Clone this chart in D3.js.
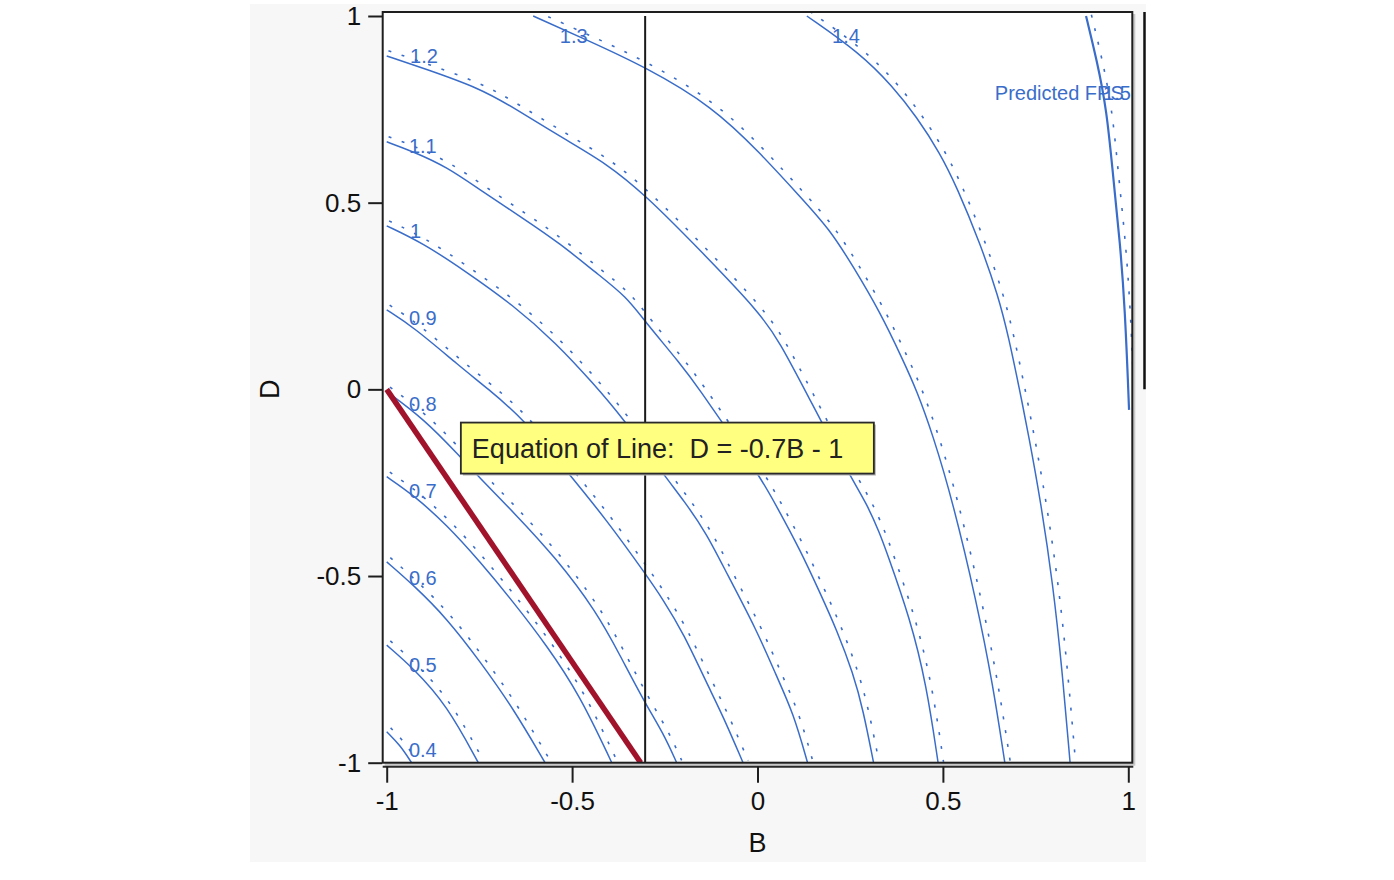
<!DOCTYPE html>
<html>
<head>
<meta charset="utf-8">
<script src="https://cdn.jsdelivr.net/npm/d3@7"></script>
<style>
  html, body { margin: 0; padding: 0; background: #ffffff; }
  svg { display: block; font-family: "Liberation Sans", Arial, sans-serif; }
</style>
</head>
<body>
<div id="chart"></div>
<script>
// contour levels of Predicted FPS over B (x) and D (y)
var levels = ["0.4", "0.5", "0.6", "0.7", "0.8", "0.9", "1", "1.1", "1.2", "1.3", "1.4", "1.5"];

// traced contour paths, points are [B, D]
var contour04 = [[-1, -0.917], [-0.964, -0.953], [-0.933, -1]];
var contour05 = [[-1, -0.685], [-0.928, -0.747], [-0.838, -0.845], [-0.753, -1]];
var contour06 = [[-1, -0.462], [-0.928, -0.524], [-0.838, -0.613], [-0.748, -0.729], [-0.659, -0.854], [-0.573, -1]];
var contour07 = [[-1, -0.234], [-0.928, -0.283], [-0.838, -0.363], [-0.748, -0.462], [-0.659, -0.569],
                 [-0.569, -0.685], [-0.479, -0.819], [-0.393, -1]];
var contour08 = [[-1, -0.006], [-0.901, -0.078], [-0.802, -0.180], [-0.757, -0.229], [-0.659, -0.328],
                 [-0.542, -0.453], [-0.434, -0.596], [-0.371, -0.712], [-0.303, -0.841], [-0.254, -0.921], [-0.218, -1]];
var contour09 = [[-1, 0.213], [-0.929, 0.168], [-0.802, 0.061], [-0.730, 0.004], [-0.632, -0.078],
                 [-0.506, -0.229], [-0.407, -0.350], [-0.303, -0.493], [-0.254, -0.564], [-0.200, -0.653],
                 [-0.137, -0.787], [-0.092, -0.877], [-0.039, -1]];
var contour10 = [[-1, 0.438], [-0.901, 0.391], [-0.793, 0.320], [-0.659, 0.226], [-0.542, 0.123],
                 [-0.443, 0.016], [-0.362, -0.078], [-0.249, -0.234], [-0.200, -0.296], [-0.137, -0.386],
                 [-0.083, -0.493], [-0.002, -0.645], [0.052, -0.770], [0.097, -0.868], [0.135, -1]];
var contour11 = [[-1, 0.663], [-0.929, 0.637], [-0.838, 0.596], [-0.748, 0.534], [-0.632, 0.458],
                 [-0.533, 0.391], [-0.434, 0.311], [-0.353, 0.248], [-0.303, 0.181], [-0.209, 0.070],
                 [-0.155, -0.002], [-0.075, -0.118], [0.007, -0.234], [0.052, -0.314], [0.115, -0.430],
                 [0.169, -0.546], [0.214, -0.645], [0.258, -0.761], [0.285, -0.859], [0.313, -1]];
var contour12 = [[-1, 0.893], [-0.901, 0.860], [-0.748, 0.806], [-0.659, 0.755], [-0.524, 0.672],
                 [-0.407, 0.605], [-0.303, 0.521], [-0.155, 0.373], [0.007, 0.205], [0.061, 0.124],
                 [0.128, -0.002], [0.249, -0.232], [0.294, -0.305], [0.330, -0.386], [0.348, -0.435],
                 [0.411, -0.612], [0.456, -0.792], [0.487, -1]];
var contour13 = [[-0.605, 1], [-0.461, 0.936], [-0.303, 0.864], [-0.120, 0.757], [0.007, 0.633],
                 [0.115, 0.516], [0.196, 0.427], [0.258, 0.329], [0.330, 0.208], [0.392, 0.079],
                 [0.429, -0.002], [0.473, -0.122], [0.527, -0.302], [0.591, -0.570], [0.635, -0.792], [0.667, -1]];
var contour14 = [[0.133, 1], [0.276, 0.901], [0.365, 0.811], [0.429, 0.730], [0.492, 0.633],
                 [0.537, 0.543], [0.600, 0.392], [0.650, 0.248], [0.677, 0.141], [0.707, -0.002],
                 [0.731, -0.122], [0.764, -0.302], [0.797, -0.524], [0.821, -0.746], [0.843, -1]];
var contour15 = [[0.886, 1], [0.915, 0.882], [0.942, 0.748], [0.959, 0.570], [0.978, 0.392],
                 [0.991, 0.213], [1.0, -0.002], [1.002, -0.055]];

// where each level label sits, [B, D] of the label baseline start
var labelAnchors = [[-0.94, -0.985], [-0.94, -0.757], [-0.94, -0.524], [-0.94, -0.291], [-0.94, -0.058],
                    [-0.94, 0.172], [-0.937, 0.405], [-0.94, 0.633], [-0.937, 0.874], [-0.533, 0.928],
                    [0.201, 0.928], [0.932, 0.775]];

// constraint line drawn by the profiler, and the crosshair at B
var constraintLine = [[-1, 0], [-0.315, -1]];
var crossB = -0.303;

var xTicks = [-1, -0.5, 0, 0.5, 1];
var yTicks = [-1, -0.5, 0, 0.5, 1];

var responseName = "Predicted FPS";
var equationText = "Equation of Line:  D = -0.7B - 1";

var contours = [contour04, contour05, contour06, contour07, contour08, contour09,
                contour10, contour11, contour12, contour13, contour14, contour15];

var W = 1394, H = 880;
var blue = "#3a6dc9";

var xScale = d3.scaleLinear().domain([-1, 1]).range([386.7, 1128.3]);
var yScale = d3.scaleLinear().domain([-1, 1]).range([762.7, 16]);

var frameL = xScale(-1) - 4, frameR = xScale(1) + 4,
    frameT = yScale(1) - 4, frameB = yScale(-1);

var svg = d3.select("#chart").append("svg")
  .attr("width", W)
  .attr("height", H);

// gray report panel
svg.append("rect")
  .attr("x", 250).attr("y", 4)
  .attr("width", 896).attr("height", 858)
  .attr("fill", "#f7f7f7");

// frame shadow + plot area
svg.append("rect")
  .attr("x", frameL + 2).attr("y", frameT + 2)
  .attr("width", frameR - frameL + 1).attr("height", frameB - frameT + 1)
  .attr("fill", "#c8c8c8");
svg.append("rect")
  .attr("x", frameL).attr("y", frameT)
  .attr("width", frameR - frameL).attr("height", frameB - frameT)
  .attr("fill", "#ffffff");

svg.append("clipPath").attr("id", "plotClip")
  .append("rect")
  .attr("x", frameL).attr("y", frameT)
  .attr("width", frameR - frameL).attr("height", frameB - frameT);

var plotG = svg.append("g").attr("clip-path", "url(#plotClip)");

// basis curve smooths out the tracing jitter
var dataLine = d3.line()
  .x(function(d) { return xScale(d[0]); })
  .y(function(d) { return yScale(d[1]); })
  .curve(d3.curveBasis);

var pixLine = d3.line().curve(d3.curveBasis);

// shift a contour a few px to its high side for the hatch dots
function offsetPoints(pts, dist) {
  var px = pts.map(function(p) { return [xScale(p[0]), yScale(p[1])]; });
  return px.map(function(p, i) {
    var a = px[Math.max(i - 1, 0)], b = px[Math.min(i + 1, px.length - 1)];
    var tx = b[0] - a[0], ty = b[1] - a[1];
    var len = Math.sqrt(tx * tx + ty * ty) || 1;
    return [p[0] + dist * ty / len, p[1] - dist * tx / len];
  });
}

plotG.selectAll("path.hatch")
  .data(contours)
  .enter().append("path")
  .attr("class", "hatch")
  .attr("d", function(d) { return pixLine(offsetPoints(d, 5.5)); })
  .attr("fill", "none")
  .attr("stroke", blue)
  .attr("stroke-width", 1.6)
  .attr("stroke-dasharray", "3,11");

plotG.selectAll("path.contour")
  .data(contours)
  .enter().append("path")
  .attr("class", "contour")
  .attr("d", dataLine)
  .attr("fill", "none")
  .attr("stroke", blue)
  .attr("stroke-width", function(d, i) { return i == contours.length - 1 ? 2.2 : 1.5; });

// crosshair at B
plotG.append("line")
  .attr("x1", xScale(crossB)).attr("x2", xScale(crossB))
  .attr("y1", yScale(1)).attr("y2", yScale(-1))
  .attr("stroke", "#1a1a1a")
  .attr("stroke-width", 2);

// constraint line
plotG.append("path")
  .datum(constraintLine)
  .attr("d", d3.line().x(function(d) { return xScale(d[0]); }).y(function(d) { return yScale(d[1]); }))
  .attr("stroke", "#a1132b")
  .attr("stroke-width", 5.5)
  .attr("fill", "none");

// level labels
plotG.selectAll("text.level")
  .data(levels)
  .enter().append("text")
  .attr("class", "level")
  .attr("x", function(d, i) { return xScale(labelAnchors[i][0]); })
  .attr("y", function(d, i) { return yScale(labelAnchors[i][1]); })
  .attr("fill", blue)
  .style("font-size", "20px")
  .text(function(d) { return d; });

plotG.append("text")
  .attr("x", xScale(0.640))
  .attr("y", yScale(0.775))
  .attr("fill", blue)
  .style("font-size", "20px")
  .text(responseName);

// equation annotation box
var eqG = svg.append("g")
  .attr("transform", "translate(" + xScale(-0.8) + "," + yScale(-0.089) + ")");
eqG.append("rect")
  .attr("x", 2).attr("y", 2)
  .attr("width", 413).attr("height", 51)
  .attr("fill", "#b8b8b8");
eqG.append("rect")
  .attr("width", 413).attr("height", 51)
  .attr("fill", "#ffff80")
  .attr("stroke", "#2a2a2a")
  .attr("stroke-width", 1.8);
eqG.append("text")
  .attr("x", 11).attr("y", 35)
  .attr("fill", "#222")
  .style("font-size", "27px")
  .style("white-space", "pre")
  .text(equationText);

// frame border
svg.append("rect")
  .attr("x", frameL).attr("y", frameT)
  .attr("width", frameR - frameL).attr("height", frameB - frameT)
  .attr("fill", "none")
  .attr("stroke", "#1e1e1e")
  .attr("stroke-width", 2);

// bar at right edge of the panel
svg.append("line")
  .attr("x1", 1144.5).attr("x2", 1144.5)
  .attr("y1", frameT).attr("y2", yScale(0))
  .attr("stroke", "#111")
  .attr("stroke-width", 2.5);

// axes
var yAxis = svg.append("g")
  .attr("class", "y axis")
  .attr("transform", "translate(" + (frameL - 0.5) + ",0)")
  .call(d3.axisLeft(yScale).tickValues(yTicks).tickSize(14).tickPadding(7)
        .tickFormat(function(d) { return String(d); }));
yAxis.select(".domain").remove();

var xAxisY = frameB + 4;
svg.append("line")
  .attr("x1", frameL).attr("x2", frameR + 1)
  .attr("y1", xAxisY).attr("y2", xAxisY)
  .attr("stroke", "#2a2a2a")
  .attr("stroke-width", 2);

var xAxis = svg.append("g")
  .attr("class", "x axis")
  .attr("transform", "translate(0," + xAxisY + ")")
  .call(d3.axisBottom(xScale).tickValues(xTicks).tickSize(16).tickPadding(9)
        .tickFormat(function(d) { return String(d); }));
xAxis.select(".domain").remove();

svg.selectAll(".axis line")
  .attr("stroke", "#1e1e1e")
  .attr("stroke-width", 2);
svg.selectAll(".axis text")
  .attr("fill", "#111")
  .style("font-family", "'Liberation Sans', Arial, sans-serif")
  .style("font-size", "26px");

// axis titles
svg.append("text")
  .attr("x", xScale(0))
  .attr("y", 852)
  .attr("text-anchor", "middle")
  .attr("fill", "#111")
  .style("font-size", "27px")
  .text("B");

svg.append("text")
  .attr("transform", "translate(279," + yScale(0) + ") rotate(-90)")
  .attr("text-anchor", "middle")
  .attr("fill", "#111")
  .style("font-size", "27px")
  .text("D");
</script>
</body>
</html>
